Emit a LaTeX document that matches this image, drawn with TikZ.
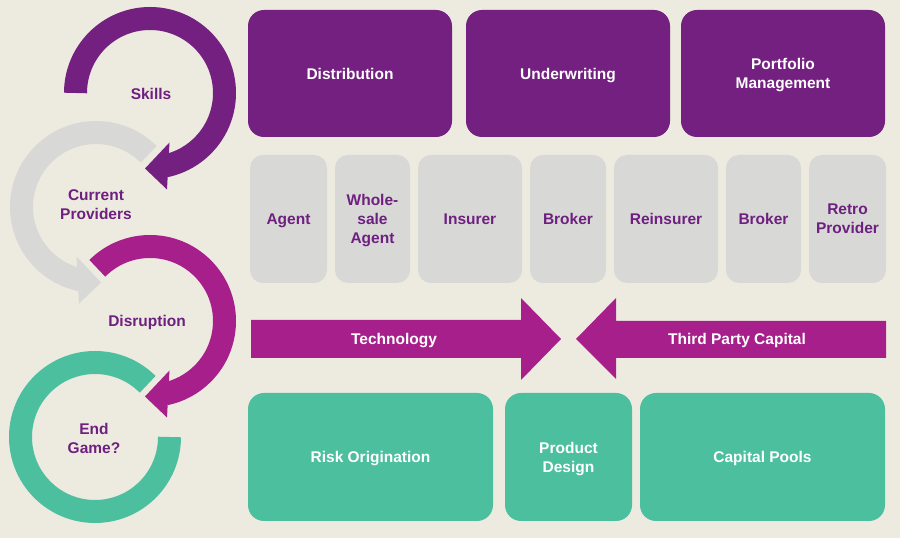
\documentclass[tikz,border=0pt]{standalone}
\usepackage{fontspec}
\setmainfont{Liberation Sans}
\usetikzlibrary{calc}
\definecolor{bgc}{HTML}{EDEAE0}
\definecolor{pdark}{HTML}{732080}
\definecolor{pmag}{HTML}{A71F8A}
\definecolor{teal}{HTML}{4CBF9F}
\definecolor{greyb}{HTML}{D8D8D6}
\definecolor{ptext}{HTML}{6E2080}
\begin{document}
\begin{tikzpicture}[x=1pt,y=1pt,
  lbl/.style={font=\bfseries\fontsize{15.5}{19}\selectfont, align=center, inner sep=0pt, text depth=0pt},
  topbox/.style={lbl, fill=pdark, text=white, rounded corners=16pt, minimum width=204pt, minimum height=127pt},
  greybox/.style={lbl, fill=greyb, text=ptext, rounded corners=13pt, minimum height=128pt},
  tealbox/.style={lbl, fill=teal, text=white, rounded corners=16pt, minimum height=128pt},
  ring/.style={line width=23pt, line cap=butt},
  ringlabel/.style={lbl, text=ptext}]
\fill[bgc] (0,0) rectangle (900,538);
\useasboundingbox (0,0) rectangle (900,538);

% left rings
% Current Providers (grey)
\coordinate (cp) at (96,331);
\draw[ring, greyb] (cp) ++(45:74.5) arc[start angle=45, end angle=258.5, radius=74.5];
\fill[greyb] ($(cp)+(5,-75.5)$) -- ($(cp)+(-19.5,-49.5)$) -- ($(cp)+(-17,-96.5)$) -- cycle;
% End Game (teal)
\coordinate (eg) at (95,101);
\draw[ring, teal] (eg) ++(45:74.5) arc[start angle=45, end angle=360, radius=74.5];
% Skills (dark purple)
\coordinate (sk) at (150,445);
\draw[ring, pdark] (sk) ++(180:74.5) arc[start angle=180, end angle=-78.5, radius=74.5];
\fill[pdark] ($(sk)+(-5,-75.5)$) -- ($(sk)+(19.5,-49.5)$) -- ($(sk)+(17,-96.5)$) -- cycle;
% Disruption (magenta)
\coordinate (di) at (150,217);
\draw[ring, pmag] (di) ++(135:74.5) arc[start angle=135, end angle=-78.5, radius=74.5];
\fill[pmag] ($(di)+(-5,-75.5)$) -- ($(di)+(19.5,-49.5)$) -- ($(di)+(17,-96.5)$) -- cycle;

\node[ringlabel] (skills) at (151,444.5) {Skills};
\node[ringlabel] (current) at (96,333) {Current\\Providers};
\node[ringlabel] (disrupt) at (147,217) {Disruption};
\node[ringlabel] (endgame) at (94,100) {End\\Game?};

% top boxes
\node[topbox] (dist) at (350,464.5) {Distribution};
\node[topbox] (under) at (568,464.5) {Underwriting};
\node[topbox] (port) at (783,464.5) {Portfolio\\Management};

% grey boxes
\node[greybox, minimum width=77pt] (agent) at (288.5,319) {Agent};
\node[greybox, minimum width=75pt] (whole) at (372.5,319) {Whole-\\sale\\Agent};
\node[greybox, minimum width=104pt] (insurer) at (470,319) {Insurer};
\node[greybox, minimum width=76pt] (broker1) at (568,319) {Broker};
\node[greybox, minimum width=104pt] (reins) at (666,319) {Reinsurer};
\node[greybox, minimum width=75pt] (broker2) at (763.5,319) {Broker};
\node[greybox, minimum width=77pt] (retro) at (847.5,319) {Retro\\Provider};

% converging arrows
\fill[pmag] (251,218) -- (521,218) -- (521,240) -- (561,199) -- (521,158) -- (521,180) -- (251,180) -- cycle;
\fill[pmag] (886,217) -- (616,217) -- (616,240) -- (576,199) -- (616,159) -- (616,180) -- (886,180) -- cycle;
\node[lbl, text=white] (tech) at (394,199) {Technology};
\node[lbl, text=white] (tpc) at (737,199) {Third Party Capital};

% teal boxes
\node[tealbox, minimum width=245pt] (risk) at (370.5,81) {Risk Origination};
\node[tealbox, minimum width=127pt] (prod) at (568.5,81) {Product\\Design};
\node[tealbox, minimum width=245pt] (cap) at (762.5,81) {Capital Pools};
\end{tikzpicture}
\end{document}
